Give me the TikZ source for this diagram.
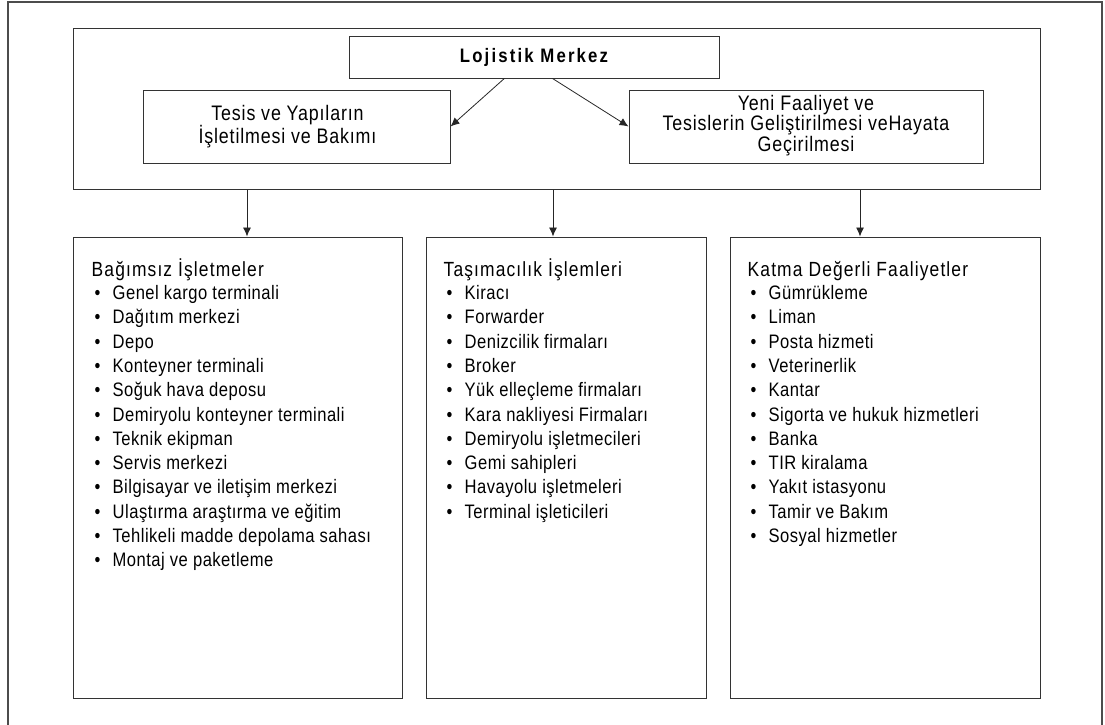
\documentclass[tikz,border=0pt]{standalone}
\usepackage{fontspec}
\setmainfont{Liberation Sans}[FakeStretch=0.85, LetterSpace=2.5]
\newfontfamily\titlefont{Liberation Sans}[FakeStretch=0.86, LetterSpace=11]
\newfontfamily\headfont{Liberation Sans}[FakeStretch=0.85, LetterSpace=5.5]
\newfontfamily\boxfont{Liberation Sans}[FakeStretch=0.85, LetterSpace=4]
\usetikzlibrary{arrows.meta,calc}

\tikzset{
  frame/.style={draw=black!70, line width=1.1pt},
  box/.style={draw=black!80, line width=1pt, rectangle, inner sep=0pt},
  arr/.style={draw=black!85, line width=0.8pt, -{Latex[length=9pt,width=8pt]}},
  boxtext/.style={align=center, inner sep=0pt, font=\boxfont\fontsize{21}{20.5}\selectfont},
  head/.style={anchor=base west, inner sep=0pt, font=\headfont\fontsize{20.5}{22}\selectfont},
  item/.style={anchor=base west, inner sep=0pt, font=\fontsize{19.5}{22}\selectfont,
    execute at begin node={\makebox[18pt][l]{\textbullet}}},
}

\begin{document}
\begin{tikzpicture}[x=1pt, y=-1pt]
\useasboundingbox (0,0) rectangle (1105,725);

% open page frame
\draw[frame] (8,725) -- (8,2) -- (1102,2) -- (1102,725);

% upper block
\node[box, minimum width=967pt, minimum height=160pt] (top) at (556.5,109) {};
\node[box, minimum width=370pt, minimum height=41pt,
      font=\titlefont\bfseries\fontsize{19.5}{22}\selectfont] (lm) at (534,57.5) {Lojistik Merkez};
\node[box, minimum width=307pt, minimum height=73pt] (tesis) at (296.5,126.5) {};
\node[box, minimum width=354pt, minimum height=73pt] (yeni) at (806,126.5) {};
\node[boxtext] (tesis-t) at ([xshift=-9pt]tesis.center) {Tesis ve Yapıların\\İşletilmesi ve Bakımı};
\node[boxtext] (yeni-t) at ([yshift=1pt]yeni.center) {Yeni Faaliyet ve\\Tesislerin Geliştirilmesi veHayata\\Geçirilmesi};

\draw[arr] ($(lm.south west)!0.42!(lm.south east)$) -- (tesis.east);
\draw[arr] ($(lm.south west)!0.55!(lm.south east)$) -- (yeni.west);

% lower blocks
\node[box, minimum width=329pt, minimum height=461pt] (b1) at (237.5,467.5) {};
\node[box, minimum width=280pt, minimum height=461pt] (b2) at (566,467.5) {};
\node[box, minimum width=310pt, minimum height=461pt] (b3) at (885,467.5) {};

\coordinate (c1) at (247,0);
\coordinate (c2) at (553,0);
\coordinate (c3) at (860,0);
\draw[arr] (top.south -| c1) -- (b1.north -| c1);
\draw[arr] (top.south -| c2) -- (b2.north -| c2);
\draw[arr] (top.south -| c3) -- (b3.north -| c3);

% list headings
\node[head] (h1) at ([xshift=19pt, yshift=-40pt]b1.north west) {Bağımsız İşletmeler};
\node[head] (h2) at ([xshift=18pt, yshift=-40pt]b2.north west) {Taşımacılık İşlemleri};
\node[head] (h3) at ([xshift=18pt, yshift=-40pt]b3.north west) {Katma Değerli Faaliyetler};

% list items
\foreach \t [count=\i] in {Genel kargo terminali, Dağıtım merkezi, Depo,
  Konteyner terminali, Soğuk hava deposu, Demiryolu konteyner terminali,
  Teknik ekipman, Servis merkezi, Bilgisayar ve iletişim merkezi,
  Ulaştırma araştırma ve eğitim, Tehlikeli madde depolama sahası,
  Montaj ve paketleme}
  \node[item] (b1-\i) at ([xshift=22pt, yshift={-63pt-24.3pt*(\i-1)}]b1.north west) {\t};

\foreach \t [count=\i] in {Kiracı, Forwarder, Denizcilik firmaları, Broker,
  Yük elleçleme firmaları, Kara nakliyesi Firmaları, Demiryolu işletmecileri,
  Gemi sahipleri, Havayolu işletmeleri, Terminal işleticileri}
  \node[item] (b2-\i) at ([xshift=21pt, yshift={-63pt-24.3pt*(\i-1)}]b2.north west) {\t};

\foreach \t [count=\i] in {Gümrükleme, Liman, Posta hizmeti, Veterinerlik,
  Kantar, Sigorta ve hukuk hizmetleri, Banka, TIR kiralama, Yakıt istasyonu,
  Tamir ve Bakım, Sosyal hizmetler}
  \node[item] (b3-\i) at ([xshift=21pt, yshift={-63pt-24.3pt*(\i-1)}]b3.north west) {\t};
\end{tikzpicture}
\end{document}
